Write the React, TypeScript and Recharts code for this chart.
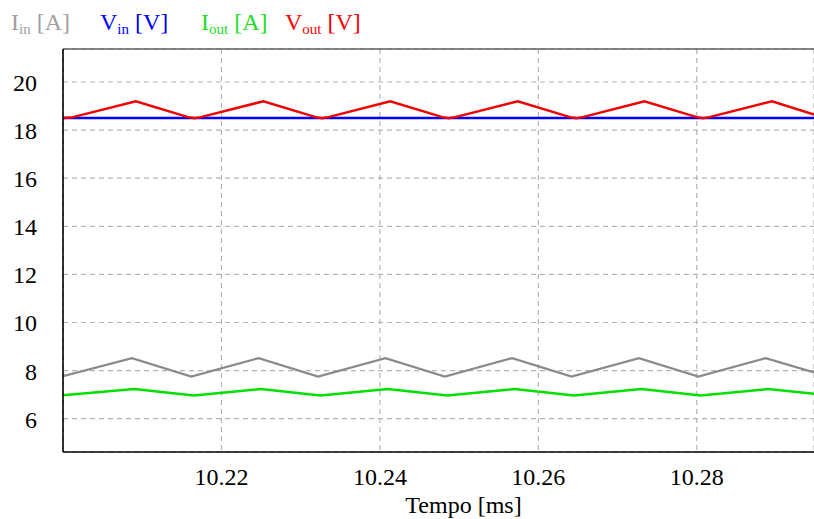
import React from "react";
import { LineChart, Line, XAxis, YAxis, CartesianGrid, ReferenceLine, Label } from "recharts";

// switching waveforms, time in ms
const X_DOMAIN: [number, number] = [10.2, 10.2948];
const Y_DOMAIN: [number, number] = [4.615, 21.372];
const X_TICKS = [10.22, 10.24, 10.26, 10.28];
const Y_TICKS = [6, 8, 10, 12, 14, 16, 18, 20];

const VIN = [
    { t: 10.2, v: 18.5 },
    { t: 10.2948, v: 18.5 },
];

const VOUT = [
    { t: 10.2, v: 18.5 }, { t: 10.201, v: 18.52 }, { t: 10.2092, v: 19.2 },
    { t: 10.2158, v: 18.54 }, { t: 10.2166, v: 18.49 }, { t: 10.2174, v: 18.54 }, { t: 10.2253, v: 19.2 },
    { t: 10.2319, v: 18.54 }, { t: 10.2327, v: 18.49 }, { t: 10.2335, v: 18.54 }, { t: 10.2413, v: 19.2 },
    { t: 10.2479, v: 18.54 }, { t: 10.2487, v: 18.49 }, { t: 10.2495, v: 18.54 }, { t: 10.2574, v: 19.2 },
    { t: 10.264, v: 18.54 }, { t: 10.2648, v: 18.49 }, { t: 10.2656, v: 18.54 }, { t: 10.2734, v: 19.2 },
    { t: 10.28, v: 18.54 }, { t: 10.2808, v: 18.49 }, { t: 10.2816, v: 18.54 }, { t: 10.2895, v: 19.2 },
    { t: 10.2948, v: 18.65 },
];

const IIN = [
    { t: 10.2, v: 7.77 }, { t: 10.2087, v: 8.52 }, { t: 10.2162, v: 7.75 },
    { t: 10.2247, v: 8.52 }, { t: 10.2322, v: 7.75 }, { t: 10.2407, v: 8.52 },
    { t: 10.2482, v: 7.75 }, { t: 10.2567, v: 8.52 }, { t: 10.2642, v: 7.75 },
    { t: 10.2727, v: 8.52 }, { t: 10.2802, v: 7.75 }, { t: 10.2887, v: 8.52 },
    { t: 10.2948, v: 7.92 },
];

const IOUT = [
    { t: 10.2, v: 6.97 }, { t: 10.209, v: 7.23 }, { t: 10.2165, v: 6.96 },
    { t: 10.225, v: 7.23 }, { t: 10.2325, v: 6.96 }, { t: 10.241, v: 7.23 },
    { t: 10.2485, v: 6.96 }, { t: 10.257, v: 7.23 }, { t: 10.2645, v: 6.96 },
    { t: 10.273, v: 7.23 }, { t: 10.2805, v: 6.96 }, { t: 10.289, v: 7.23 },
    { t: 10.2948, v: 7.04 },
];

const LEGEND = [
    { main: "I", sub: "in", unit: "[A]", color: "#a0a0a0", x: 11 },
    { main: "V", sub: "in", unit: "[V]", color: "#0000ff", x: 100 },
    { main: "I", sub: "out", unit: "[A]", color: "#22dd22", x: 201 },
    { main: "V", sub: "out", unit: "[V]", color: "#ff0000", x: 285 },
];

const FONT = "'Liberation Serif', 'Times New Roman', serif";

function XTick({ x, y, payload }: any) {
    return (
        <text x={x} y={y} dy={31} textAnchor="middle" fontFamily={FONT} fontSize={24} fill="#000">
            {payload.value.toFixed(2)}
        </text>
    );
}

function YTick({ x, y, payload }: any) {
    return (
        <text x={x - 24} y={y} dy={9} textAnchor="end" fontFamily={FONT} fontSize={24} fill="#000">
            {payload.value}
        </text>
    );
}

function AxisTitle({ viewBox }: any) {
    const cx = viewBox.x + viewBox.width / 2 + 25;
    return (
        <text x={cx} y={viewBox.y + 61} textAnchor="middle" fontFamily={FONT} fontSize={24} fill="#000">
            Tempo [ms]
        </text>
    );
}

export default function App() {
    return (
        <div style={{ position: "absolute", left: 0, top: 0, width: 814, height: 519, background: "#fff" }}>
            <LineChart width={814} height={519} margin={{ top: 49, right: 0, bottom: 0, left: 0 }}>
                <CartesianGrid stroke="#b4b4b4" strokeDasharray="5 4" strokeWidth={1.2} />
                <XAxis
                    dataKey="t"
                    type="number"
                    domain={X_DOMAIN}
                    ticks={X_TICKS}
                    height={67}
                    tickLine={false}
                    tickSize={0}
                    axisLine={{ stroke: "#000", strokeWidth: 1.6 }}
                    tick={<XTick />}
                    allowDataOverflow
                >
                    <Label content={<AxisTitle />} />
                </XAxis>
                <YAxis
                    dataKey="v"
                    type="number"
                    domain={Y_DOMAIN}
                    ticks={Y_TICKS}
                    width={63}
                    tickLine={false}
                    tickSize={0}
                    axisLine={{ stroke: "#000", strokeWidth: 1.6 }}
                    tick={<YTick />}
                    allowDataOverflow
                />
                <ReferenceLine y={Y_DOMAIN[1]} stroke="#606060" strokeWidth={1.6} />
                <Line data={IIN} dataKey="v" stroke="#8a8a8a" strokeWidth={2.2} dot={false} isAnimationActive={false} />
                <Line data={IOUT} dataKey="v" stroke="#00e000" strokeWidth={2.5} dot={false} isAnimationActive={false} />
                <Line data={VIN} dataKey="v" stroke="#0000ff" strokeWidth={2.5} dot={false} isAnimationActive={false} />
                <Line data={VOUT} dataKey="v" stroke="#f00000" strokeWidth={2.5} dot={false} isAnimationActive={false} />
            </LineChart>
            <svg width={814} height={45} style={{ position: "absolute", left: 0, top: 0, pointerEvents: "none" }}>
                {LEGEND.map((item) => (
                    <text key={item.main + item.sub} x={item.x} y={30} fontFamily={FONT} fontSize={24} fill={item.color}>
                        {item.main}
                        <tspan fontSize={15} dy={4}>{item.sub}</tspan>
                        <tspan dy={-4}>{" " + item.unit}</tspan>
                    </text>
                ))}
            </svg>
        </div>
    );
}
